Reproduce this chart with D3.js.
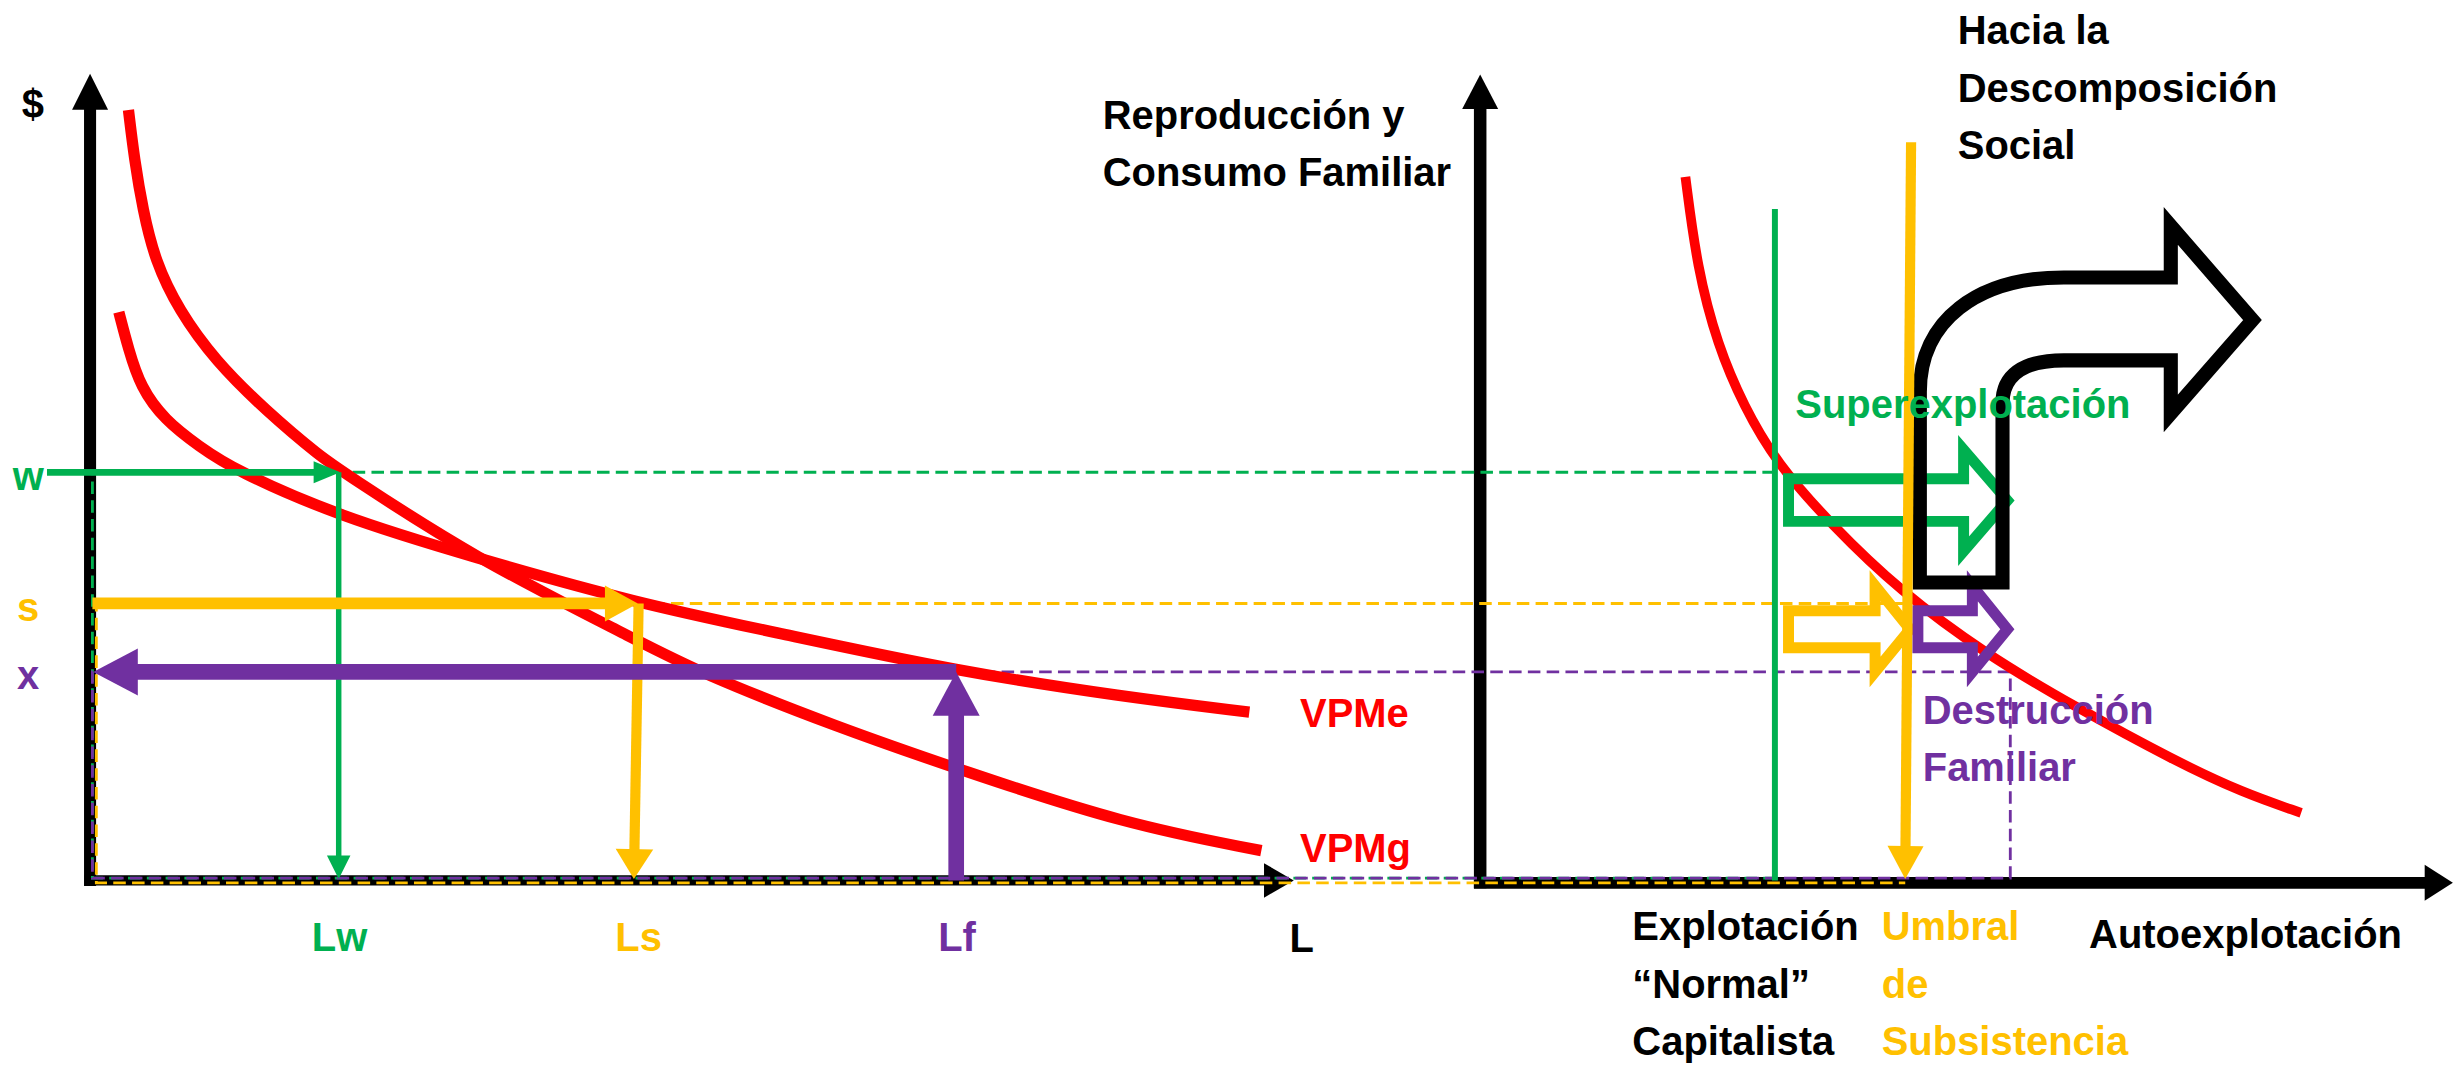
<!DOCTYPE html>
<meta charset="utf-8">

<!-- Load d3.js -->
<script src="https://d3js.org/d3.v7.min.js"></script>

<head>
  <style>
  body { margin: 0; background: #fff; }
  svg text { font-family: "Liberation Sans", Arial, sans-serif; font-weight: bold; }
  </style>
</head>

<body>
<div id="my_dataviz"></div>

<script>

// ---- data (domain units: 0..100 on each axis) ----
var levelNames  = ["w", "s", "x"]
var levelValues = [50.7, 34.4, 25.9]

var laborNames  = ["Lw", "Ls", "Lf"]
var laborValues = [20.5, 45.4, 71.9]

// marginal / average value product curves, left panel [L, $]
var vpmgCurve = [[3.0,95.7],[3.5,89.5],[4.2,83.3],[5.2,77.0],[7.2,70.8],[10.2,64.6],[14.4,58.4],[19.1,52.5],[20.8,50.8],
                 [31.6,40.2],[45.4,29.8],[50.4,25.9],[61.9,19.1],[72.5,13.6],[85.9,7.0],[97.3,3.7]]
var vpmeCurve = [[2.2,70.6],[3.0,66.0],[4.0,61.3],[6.0,57.2],[8.9,53.9],[11.8,51.0],[20.4,45.3],[31.6,40.2],
                 [45.4,34.4],[57.2,30.7],[71.9,26.0],[85.9,22.8],[96.3,20.9]]

// family reproduction curve, right panel
var rightCurve = [[21.1,87.4],[22.3,76.1],[24.4,66.5],[27.1,58.9],[30.5,51.8],[36.1,44.2],[43.1,36.0],
                  [52.1,28.0],[61.1,21.6],[71.5,14.8],[78.4,10.9],[84.4,8.4]]

// thresholds on the right axis (normal exploitation, subsistence, family destruction)
var thresholdValues = [30.3, 43.7, 54.5]
var categoryLines = [["Explotación", "“Normal”", "Capitalista"], ["Umbral", "de", "Subsistencia"], ["Autoexplotación"]]

// ---- styles ----
var colors = { w: "#00B050", s: "#FFC000", x: "#7030A0", red: "#FF0000", black: "#000000" }
var levelColors = [colors.w, colors.s, colors.x]
var fontSize = 25.5

// ---- svg (drawn in a 1568 x 681 frame, shown at 2456 x 1067) ----
var W = 1568, H = 681
var svg = d3.select("#my_dataviz")
  .append("svg")
  .attr("width", 2456)
  .attr("height", 1067)
  .attr("viewBox", "0 0 " + W + " " + H)

var xL = d3.scaleLinear().domain([0, 100]).range([59, 826])
var xR = d3.scaleLinear().domain([0, 100]).range([945, 1566])
var y  = d3.scaleLinear().domain([0, 100]).range([562, 48])

// straight arrow with a filled head
function arrow(g, p1, p2, o) {
  var dx = p2[0] - p1[0], dy = p2[1] - p1[1], d = Math.sqrt(dx*dx + dy*dy)
  var ux = dx / d, uy = dy / d
  var bx = p2[0] - ux * o.len, by = p2[1] - uy * o.len
  g.append("line")
    .attr("x1", p1[0]).attr("y1", p1[1])
    .attr("x2", bx + ux).attr("y2", by + uy)
    .attr("stroke", o.color)
    .attr("stroke-width", o.width)
  g.append("path")
    .attr("d", d3.line()([[p2[0], p2[1]], [bx - uy*o.half, by + ux*o.half], [bx + uy*o.half, by - ux*o.half]]) + "Z")
    .attr("fill", o.color)
}

var lineL = d3.line().x(function(d) { return xL(d[0]) }).y(function(d) { return y(d[1]) })
var lineR = d3.line().x(function(d) { return xR(d[0]) }).y(function(d) { return y(d[1]) })

// ---- axes ----
var axes = svg.append("g")
arrow(axes, [xL(0) - 1.5, y(0) + 3.5], [xL(0) - 1.5, 47], { color: "#000", width: 7.7, len: 23, half: 11.5 })
arrow(axes, [xL(0) - 5, y(0)], [xL(100), y(0)], { color: "#000", width: 6.5, len: 19, half: 11 })
arrow(axes, [xR(0), y(0) + 5], [xR(0), 47.5], { color: "#000", width: 8, len: 22, half: 11.5 })
arrow(axes, [xR(0) - 4, y(0) + 1.5], [xR(100), y(0) + 1.5], { color: "#000", width: 7.5, len: 18, half: 11.5 })

// ---- dashed guides from each level to its threshold on the right ----
var guides = svg.append("g")
  .attr("fill", "none")
  .attr("stroke-width", 1.8)
  .attr("stroke-dasharray", "8,4")
levelValues.forEach(function(v, i) {
  var dxs = i == 1 ? 2.5 : 0, dys = i == 1 ? 1.5 : -1.5
  var right = xR(thresholdValues[i])
  guides.append("path")
    .attr("d", d3.line()([[right, y(v)], [xL(0) + dxs, y(v)], [xL(0) + dxs, y(0) + dys], [right, y(0) + dys]]) + (i == 2 ? "Z" : ""))
    .attr("stroke", levelColors[i])
})

// ---- red curves ----
var curves = svg.append("g")
  .attr("fill", "none")
  .attr("stroke", colors.red)
curves.append("path").attr("stroke-width", 7.2).attr("d", lineL.curve(d3.curveBasis)(vpmgCurve))
curves.append("path").attr("stroke-width", 7.2).attr("d", lineL.curve(d3.curveBasis)(vpmeCurve))
curves.append("path").attr("stroke-width", 6.2).attr("d", lineR.curve(d3.curveBasis)(rightCurve))

// ---- left panel arrows ----
var la = svg.append("g")
var yw = y(levelValues[0]), ys = y(levelValues[1]), yx = y(levelValues[2])
arrow(la, [xL(0) - 29, yw], [xL(laborValues[0]) + 1, yw], { color: colors.w, width: 4.3, len: 17, half: 7 })
arrow(la, [xL(laborValues[0]), yw], [xL(laborValues[0]), y(0) - 1], { color: colors.w, width: 3.5, len: 15, half: 7.5 })
arrow(la, [xL(0), ys], [xL(laborValues[1]), ys], { color: colors.s, width: 7.5, len: 21, half: 11.5 })
arrow(la, [xL(laborValues[1]) + 0.5, ys], [xL(laborValues[1]) - 2.5, y(0) - 1], { color: colors.s, width: 6.5, len: 19, half: 12 })
arrow(la, [xL(laborValues[2]), y(0)], [xL(laborValues[2]), yx], { color: colors.x, width: 10, len: 28, half: 15 })
arrow(la, [xL(laborValues[2]), yx], [xL(0) + 0.5, yx], { color: colors.x, width: 10, len: 28.5, half: 15 })

// ---- right panel ----
var rp = svg.append("g")

// normal exploitation line
rp.append("line")
  .attr("x1", xR(thresholdValues[0])).attr("x2", xR(thresholdValues[0]))
  .attr("y1", y(83.4)).attr("y2", y(0))
  .attr("stroke", colors.w).attr("stroke-width", 3.8)

// hollow arrows: [body left, head base, tip] x [body top, body bottom, head top, head bottom, centre]
function hollow(u0, u1, u2, vt, vb, vht, vhb, vc, color) {
  var pts = [[u0, vt], [u1, vt], [u1, vht], [u2, vc], [u1, vhb], [u1, vb], [u0, vb]]
  rp.append("path")
    .attr("d", lineR.curve(d3.curveLinear)(pts) + "Z")
    .attr("fill", "none")
    .attr("stroke", color)
    .attr("stroke-width", 7)
}
hollow(31.7, 49.7, 54.2, 49.9, 44.6, 53.5, 40.9, 47.2, colors.w)
hollow(31.7, 40.6, 44.2, 33.5, 28.9, 36.6, 25.9, 31.2, colors.s)
hollow(45.0, 50.6, 54.2, 33.5, 28.9, 36.6, 25.9, 31.2, colors.x)

// bent arrow towards social decomposition
var bp = d3.path()
function P(u, v) { return [xR(u), y(v)] }
var p = P(45.2, 37.0); bp.moveTo(p[0], p[1])
p = P(53.7, 37.0); bp.lineTo(p[0], p[1])
p = P(53.7, 59.3); bp.lineTo(p[0], p[1])
var c1 = P(53.7, 62.6), c2 = P(55.6, 64.6); p = P(60.0, 64.6)
bp.bezierCurveTo(c1[0], c1[1], c2[0], c2[1], p[0], p[1])
p = P(71.0, 64.6); bp.lineTo(p[0], p[1])
p = P(71.0, 58.0); bp.lineTo(p[0], p[1])
p = P(79.4, 69.6); bp.lineTo(p[0], p[1])
p = P(71.0, 81.3); bp.lineTo(p[0], p[1])
p = P(71.0, 74.9); bp.lineTo(p[0], p[1])
p = P(60.0, 74.9); bp.lineTo(p[0], p[1])
c1 = P(51.1, 74.9); c2 = P(45.2, 69.5); p = P(45.2, 60.7)
bp.bezierCurveTo(c1[0], c1[1], c2[0], c2[1], p[0], p[1])
bp.closePath()
rp.append("path")
  .attr("d", bp.toString())
  .attr("fill", "none")
  .attr("stroke", "#000")
  .attr("stroke-width", 9)
  .attr("stroke-linejoin", "miter")

// subsistence threshold
arrow(rp, [xR(44.3), y(91.7)], [xR(thresholdValues[1]), y(0) - 1], { color: colors.s, width: 6.5, len: 21, half: 11.5 })

// ---- tick labels through d3 axes ----
var gy = svg.append("g")
  .attr("transform", "translate(" + xL(0) + ",0)")
  .call(d3.axisLeft(y).tickValues(levelValues).tickFormat(function(d, i) { return levelNames[i] }).tickSize(0))
gy.select(".domain").remove()
gy.selectAll("text")
  .attr("x", -41).attr("dy", "0.42em")
  .attr("text-anchor", "middle")
  .style("font-size", fontSize + "px")
  .attr("fill", function(d, i) { return levelColors[i] })

var gx = svg.append("g")
  .attr("transform", "translate(0," + y(0) + ")")
  .call(d3.axisBottom(xL).tickValues(laborValues).tickFormat(function(d, i) { return laborNames[i] }).tickSize(0).tickPadding(27))
gx.select(".domain").remove()
gx.selectAll("text")
  .style("font-size", fontSize + "px")
  .attr("fill", function(d, i) { return levelColors[i] })

// ---- other labels ----
function label(x, yy, lines, color, anchor) {
  var t = svg.append("text")
    .attr("x", x).attr("y", yy)
    .attr("fill", color)
    .attr("text-anchor", anchor || "start")
    .style("font-size", fontSize + "px")
  lines.forEach(function(s, i) {
    t.append("tspan").attr("x", x).attr("dy", i == 0 ? 0 : 36.8).text(s)
  })
}
label(xL(0) - 38, 75, ["$"], "#000", "middle")
label(xL(100) + 5, 608, ["L"], "#000", "middle")
label(xL(100) + 4, 464, ["VPMe"], colors.red)
label(xL(100) + 4, 550, ["VPMg"], colors.red)
label(xR(0) - 241, 82, ["Reproducción y", "Consumo Familiar"], "#000")
label(xR(49.1), 28, ["Hacia la", "Descomposición", "Social"], "#000")
label(xR(32.4), 267, ["Superexplotación"], colors.w)
label(xR(45.5), 462, ["Destrucción", "Familiar"], colors.x)
label(xR(thresholdValues[0]) - 91, 600, categoryLines[0], "#000")
label(xR(thresholdValues[1]) - 15, 600, categoryLines[1], colors.s)
label(xR(62.6), 605, categoryLines[2], "#000")

</script>
</body>
